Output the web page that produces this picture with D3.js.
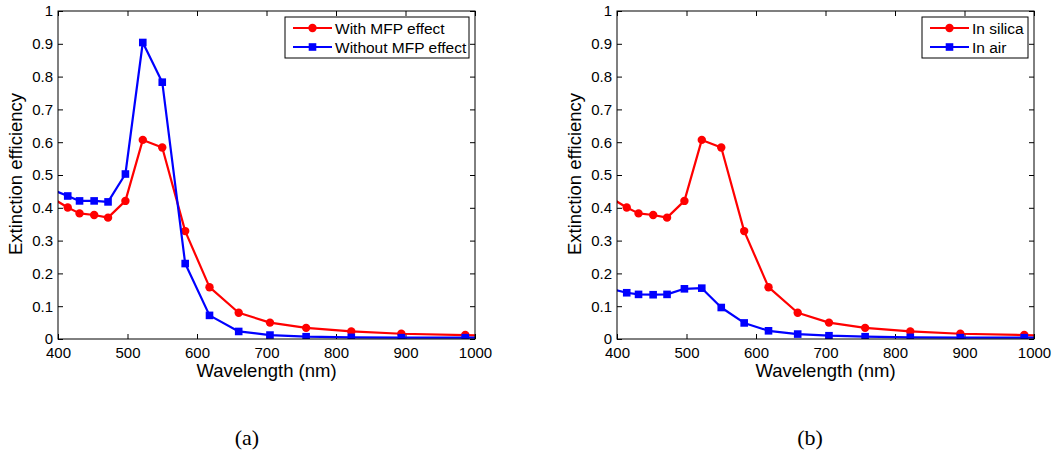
<!DOCTYPE html>
<html>
  <head>
    <meta charset="utf-8">
    <script src="https://d3js.org/d3.v7.min.js"></script>
    <style>
      body { margin: 0; background: #fff; }
      svg { display: block; }
      .tick text { font-family: "Liberation Sans", Arial, Helvetica, sans-serif; font-size: 15px; fill: #000; }
      .lbl { font-family: "Liberation Sans", Arial, Helvetica, sans-serif; font-size: 18.5px; fill: #000; }
      .leg { font-family: "Liberation Sans", Arial, Helvetica, sans-serif; font-size: 15.5px; fill: #000; }
      .cap { font-family: "Liberation Serif", "DejaVu Serif", serif; font-size: 22px; fill: #000; }
    </style>
  </head>
  <body>
    <svg id="chart" width="1060" height="455"></svg>

    <script>

        // wavelengths (nm); first and last points sit just outside the axes and get clipped
        const wavelength = [392, 414, 431, 452, 472, 497, 522, 550, 583, 618, 660, 705, 757, 822, 894, 986, 1012]

        // panel (a)
        const withMFP    = [0.429, 0.401, 0.383, 0.378, 0.370, 0.421, 0.607, 0.584, 0.329, 0.158, 0.080, 0.050, 0.034, 0.023, 0.016, 0.012, 0.010]
        const withoutMFP = [0.455, 0.436, 0.421, 0.421, 0.418, 0.503, 0.904, 0.783, 0.230, 0.072, 0.023, 0.012, 0.007, 0.005, 0.004, 0.004, 0.004]

        // panel (b)
        const inSilica = [0.429, 0.401, 0.383, 0.378, 0.370, 0.421, 0.607, 0.584, 0.329, 0.158, 0.080, 0.050, 0.034, 0.023, 0.016, 0.012, 0.010]
        const inAir    = [0.152, 0.141, 0.136, 0.135, 0.136, 0.153, 0.155, 0.096, 0.049, 0.025, 0.015, 0.010, 0.007, 0.005, 0.004, 0.004, 0.004]

        const xTicks = [400, 500, 600, 700, 800, 900, 1000]
        const yTicks = [0, 0.1, 0.2, 0.3, 0.4, 0.5, 0.6, 0.7, 0.8, 0.9, 1]

        const svg = d3.select("#chart")

        drawPanel({
            id: "a", left: 58, caption: "(a)", capX: 247,
            series: [
                {name: "With MFP effect", values: withMFP, color: "#ff0000", marker: "circle"},
                {name: "Without MFP effect", values: withoutMFP, color: "#0000ff", marker: "square"}
            ],
            legendX: 285, legendW: 184
        })

        drawPanel({
            id: "b", left: 617, caption: "(b)", capX: 810,
            series: [
                {name: "In silica", values: inSilica, color: "#ff0000", marker: "circle"},
                {name: "In air", values: inAir, color: "#0000ff", marker: "square"}
            ],
            legendX: 922, legendW: 106
        })

        function drawPanel(p) {
            let w = 417, h = 328, top = 11,
                g = svg.append("g").attr("transform", `translate(${p.left},${top})`),
                x = d3.scaleLinear().domain([400, 1000]).range([0, w]),
                y = d3.scaleLinear().domain([0, 1]).range([h, 0])

            g.append("clipPath").attr("id", "clip-" + p.id)
                .append("rect").attr("width", w).attr("height", h)

            // axes, MATLAB style: ticks pointing inward on all four sides
            let fmt = d3.format("~g")
            g.append("g").attr("transform", `translate(0,${h})`)
                .call(d3.axisBottom(x).tickValues(xTicks).tickFormat(fmt).tickSizeInner(-5).tickSizeOuter(0).tickPadding(8))
            g.append("g")
                .call(d3.axisLeft(y).tickValues(yTicks).tickFormat(fmt).tickSizeInner(-5).tickSizeOuter(0).tickPadding(5))
            g.append("g")
                .call(d3.axisTop(x).tickValues(xTicks).tickFormat("").tickSizeInner(-5).tickSizeOuter(0))
            g.append("g").attr("transform", `translate(${w},0)`)
                .call(d3.axisRight(y).tickValues(yTicks).tickFormat("").tickSizeInner(-5).tickSizeOuter(0))
            g.selectAll(".domain").remove()
            g.selectAll(".tick line").attr("stroke", "#000")

            let plot = g.append("g").attr("clip-path", `url(#clip-${p.id})`)
            let line = d3.line().x((d, i) => x(wavelength[i])).y(d => y(d))

            p.series.forEach(s => {
                plot.append("path")
                    .datum(s.values)
                    .attr("fill", "none")
                    .attr("stroke", s.color)
                    .attr("stroke-width", 2.2)
                    .attr("stroke-linejoin", "round")
                    .attr("d", line)
                drawMarkers(plot, s, s.values.map((d, i) => [x(wavelength[i]), y(d)]))
            })

            g.append("rect")
                .attr("width", w).attr("height", h)
                .attr("fill", "none").attr("stroke", "#000").attr("stroke-width", 1)

            g.append("text").attr("class", "lbl")
                .attr("x", w / 2).attr("y", 366)
                .attr("text-anchor", "middle")
                .text("Wavelength (nm)")

            g.append("text").attr("class", "lbl")
                .attr("transform", `translate(${-36},${h / 2 - 1}) rotate(-90)`)
                .attr("text-anchor", "middle")
                .text("Extinction efficiency")

            // legend
            let lg = svg.append("g").attr("transform", `translate(${p.legendX},17)`)
            lg.append("rect")
                .attr("width", p.legendW).attr("height", 41)
                .attr("fill", "#fff").attr("stroke", "#000").attr("stroke-width", 1)
            p.series.forEach((s, i) => {
                let yy = 11 + i * 19
                lg.append("line")
                    .attr("x1", 8).attr("x2", 47).attr("y1", yy).attr("y2", yy)
                    .attr("stroke", s.color).attr("stroke-width", 2.2)
                drawMarkers(lg, s, [[27.5, yy]])
                lg.append("text").attr("class", "leg")
                    .attr("x", 50).attr("y", yy).attr("dy", "0.36em")
                    .text(s.name)
            })

            svg.append("text").attr("class", "cap")
                .attr("x", p.capX).attr("y", 445)
                .attr("text-anchor", "middle")
                .text(p.caption)
        }

        function drawMarkers(parent, s, pts) {
            if (s.marker === "circle") {
                parent.selectAll(null).data(pts).enter().append("circle")
                    .attr("cx", d => d[0]).attr("cy", d => d[1]).attr("r", 4.2)
                    .attr("fill", s.color)
            } else {
                parent.selectAll(null).data(pts).enter().append("rect")
                    .attr("x", d => d[0] - 3.8).attr("y", d => d[1] - 3.8)
                    .attr("width", 7.6).attr("height", 7.6)
                    .attr("fill", s.color)
            }
        }

    </script>
  </body>
</html>
